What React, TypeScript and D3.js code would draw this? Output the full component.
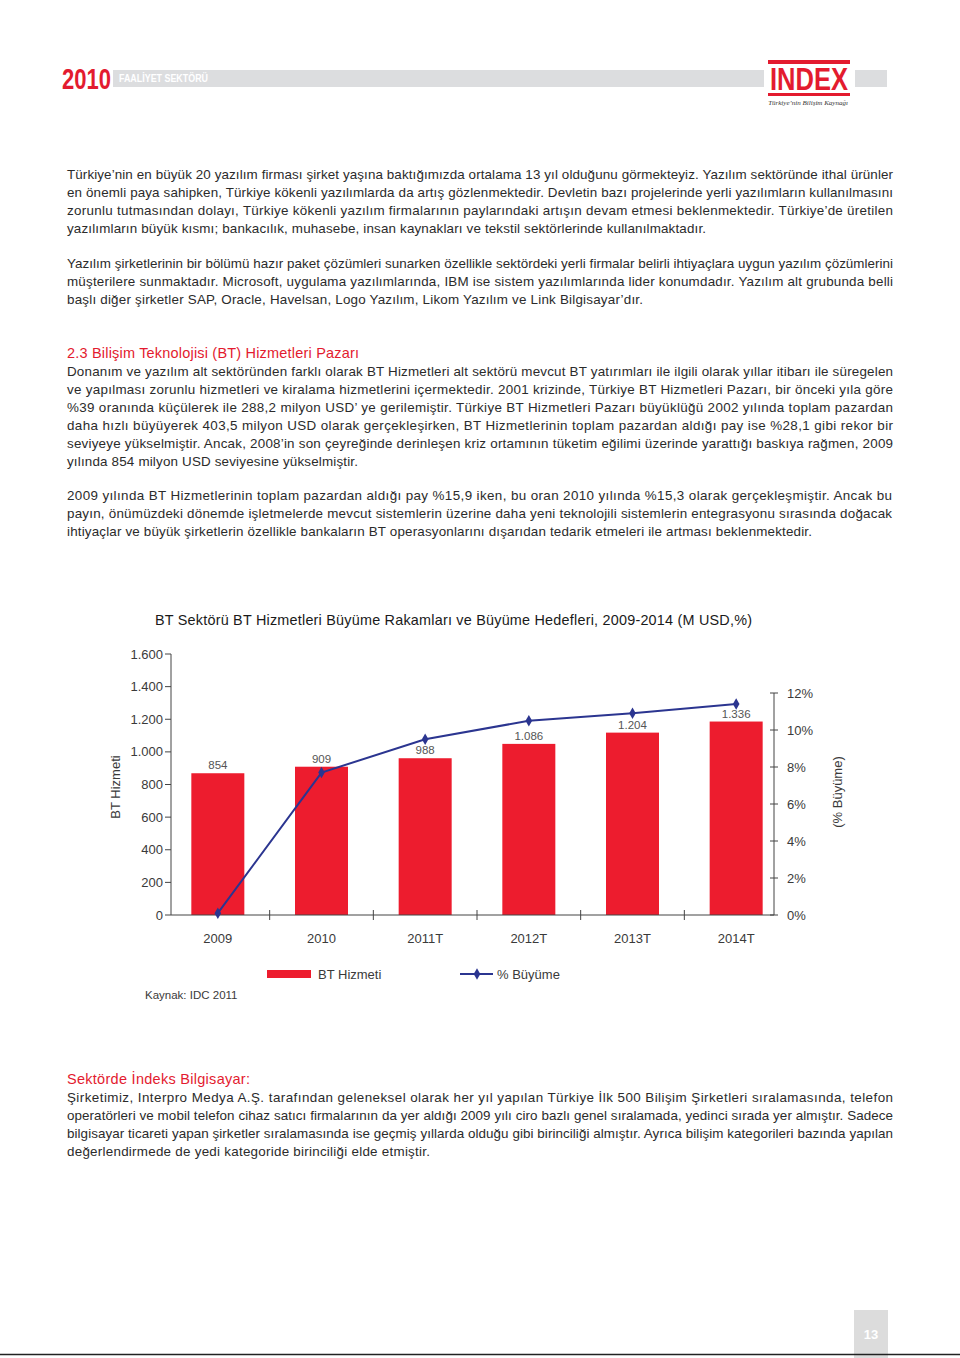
import React from "react";
import * as d3 from "d3";

// ---------- chart data ----------
const categories = ["2009", "2010", "2011T", "2012T", "2013T", "2014T"];
// value labels printed above the bars (M USD)
const btHizmetiLabels = [854, 909, 988, 1086, 1204, 1336];
// bar heights as drawn against the left axis (M USD)
const btHizmetiDrawn = [869, 909, 961, 1049, 1118, 1186];
// % growth line, read against the right axis
const buyume = [0.1, 7.7, 9.5, 10.5, 10.9, 11.4];
const leftTicks = [0, 200, 400, 600, 800, 1000, 1200, 1400, 1600];
const rightTicks = [0, 2, 4, 6, 8, 10, 12];

const chartTitle = "BT Sektörü BT Hizmetleri Büyüme Rakamları ve Büyüme Hedefleri, 2009-2014 (M USD,%)";
const leftTitle = "BT Hizmeti";
const rightTitle = "(% Büyüme)";
const legendBar = "BT Hizmeti";
const legendLine = "% Büyüme";
const source = "Kaynak: IDC 2011";

// ---------- page text ----------
type Line = { t: string; w?: number };
const p1: Line[] = [
  { t: "Türkiye’nin en büyük 20 yazılım firması şirket yaşına baktığımızda ortalama 13 yıl olduğunu görmekteyiz. Yazılım sektöründe ithal ürünler", w: 826 },
  { t: "en önemli paya sahipken, Türkiye kökenli yazılımlarda da artış gözlenmektedir. Devletin bazı projelerinde yerli yazılımların kullanılmasını", w: 826 },
  { t: "zorunlu tutmasından dolayı, Türkiye kökenli yazılım firmalarının paylarındaki artışın devam etmesi beklenmektedir. Türkiye’de üretilen", w: 826 },
  { t: "yazılımların büyük kısmı; bankacılık, muhasebe, insan kaynakları ve tekstil sektörlerinde kullanılmaktadır.", w: 639 },
];
const p2: Line[] = [
  { t: "Yazılım şirketlerinin bir bölümü hazır paket çözümleri sunarken özellikle sektördeki yerli firmalar belirli ihtiyaçlara uygun yazılım çözümlerini", w: 826 },
  { t: "müşterilere sunmaktadır. Microsoft, uygulama yazılımlarında, IBM ise sistem yazılımlarında lider konumdadır. Yazılım alt grubunda belli", w: 826 },
  { t: "başlı diğer şirketler SAP, Oracle, Havelsan, Logo Yazılım, Likom Yazılım ve Link Bilgisayar’dır.", w: 576 },
];
const p3: Line[] = [
  { t: "Donanım ve yazılım alt sektöründen farklı olarak BT Hizmetleri alt sektörü mevcut BT yatırımları ile ilgili olarak yıllar itibarı ile süregelen", w: 826 },
  { t: "ve yapılması zorunlu hizmetleri ve kiralama hizmetlerini içermektedir. 2001 krizinde, Türkiye BT Hizmetleri Pazarı, bir önceki yıla göre", w: 826 },
  { t: "%39 oranında küçülerek ile 288,2 milyon USD’ ye gerilemiştir. Türkiye BT Hizmetleri Pazarı büyüklüğü 2002 yılında toplam pazardan", w: 826 },
  { t: "daha hızlı büyüyerek 403,5 milyon USD olarak gerçekleşirken, BT Hizmetlerinin toplam pazardan aldığı pay ise %28,1 gibi rekor bir", w: 826 },
  { t: "seviyeye yükselmiştir. Ancak, 2008’in son çeyreğinde derinleşen kriz ortamının tüketim eğilimi üzerinde yarattığı baskıya rağmen, 2009", w: 826 },
  { t: "yılında 854 milyon USD seviyesine yükselmiştir.", w: 291 },
];
const p4: Line[] = [
  { t: "2009 yılında BT Hizmetlerinin toplam pazardan aldığı pay %15,9 iken, bu oran 2010 yılında %15,3 olarak gerçekleşmiştir. Ancak bu", w: 825 },
  { t: "payın, önümüzdeki dönemde işletmelerde mevcut sistemlerin üzerine daha yeni teknolojili sistemlerin entegrasyonu sırasında doğacak", w: 825 },
  { t: "ihtiyaçlar ve büyük şirketlerin özellikle bankaların BT operasyonlarını dışarıdan tedarik etmeleri ile artması beklenmektedir.", w: 745 },
];
const p5: Line[] = [
  { t: "Şirketimiz, Interpro Medya A.Ş. tarafından geleneksel olarak her yıl yapılan Türkiye İlk 500 Bilişim Şirketleri sıralamasında, telefon", w: 826 },
  { t: "operatörleri ve mobil telefon cihaz satıcı firmalarının da yer aldığı 2009 yılı ciro bazlı genel sıralamada, yedinci sırada yer almıştır. Sadece", w: 826 },
  { t: "bilgisayar ticareti yapan şirketler sıralamasında ise geçmiş yıllarda olduğu gibi birinciliği almıştır. Ayrıca bilişim kategorileri bazında yapılan", w: 826 },
  { t: "değerlendirmede de yedi kategoride birinciliği elde etmiştir.", w: 363 },
];

const RED = "#e31b2f";
const BAR = "#ed1c2e";
const NAVY = "#2b3590";
const TEXT = "#2b2b2b";
const FONT = "'Liberation Sans', Arial, Helvetica, sans-serif";

const trFormat = d3.formatLocale({ decimal: ",", thousands: ".", grouping: [3], currency: ["", ""] }).format(",");

function Paragraph({ lines, y0 }: { lines: Line[]; y0: number }) {
  return (
    <g>
      {lines.map((l, i) => (
        <text
          key={i}
          x={67}
          y={y0 + i * 18}
          fontSize={13.4}
          fill={TEXT}
          textLength={l.w}
          lengthAdjust="spacing"
        >
          {l.t}
        </text>
      ))}
    </g>
  );
}

export default function App() {
  const x = d3.scaleBand<string>().domain(categories).range([166, 788]).padding(0);
  const yL = d3.scaleLinear().domain([0, 1600]).range([915, 654]);
  const yR = d3.scaleLinear().domain([0, 12]).range([915, 693]);
  const barW = 53;
  const cx = (c: string) => (x(c) as number) + x.bandwidth() / 2;
  const axisL = 171;
  const axisR = 774;
  const base = yL(0);

  const line = d3
    .line<number>()
    .x((_, i) => cx(categories[i]))
    .y((d) => yR(d));

  const diamond = d3.symbol().type(d3.symbolDiamond).size(38)() as string;

  return (
    <svg
      width={960}
      height={1358}
      style={{ position: "absolute", left: 0, top: 0, background: "#fff" }}
      fontFamily={FONT}
    >
      <rect x={0} y={0} width={960} height={1358} fill="#fff" />

      {/* header */}
      <rect x={113} y={70} width={774} height={17} fill="#dcdddf" />
      <text x={62} y={89} fontSize={30} fontWeight="bold" fill={RED} textLength={49} lengthAdjust="spacingAndGlyphs">2010</text>
      <text x={119} y={82} fontSize={10.5} fontWeight="bold" fill="#fff" textLength={89} lengthAdjust="spacingAndGlyphs">FAALİYET SEKTÖRÜ</text>
      <rect x={764} y={56} width={91} height={54} fill="#fff" />
      <rect x={768} y={60} width={82} height={4} fill={RED} />
      <text x={770} y={90} fontSize={32} fontWeight="bold" fill={RED} textLength={78} lengthAdjust="spacingAndGlyphs">INDEX</text>
      <rect x={768} y={93} width={82} height={3} fill={RED} />
      <text x={808} y={105} fontSize={7} fontStyle="italic" fontFamily="'Liberation Serif', serif" fill="#333" textAnchor="middle">Türkiye’nin Bilişim Kaynağı</text>

      {/* text blocks */}
      <Paragraph lines={p1} y0={179} />
      <Paragraph lines={p2} y0={268} />
      <text x={67} y={358} fontSize={14.5} fill={RED} textLength={292} lengthAdjust="spacing">2.3 Bilişim Teknolojisi (BT) Hizmetleri Pazarı</text>
      <Paragraph lines={p3} y0={376} />
      <Paragraph lines={p4} y0={500} />

      {/* chart title */}
      <text x={155} y={625} fontSize={14.4} fill="#1a1a1a" textLength={597} lengthAdjust="spacing">{chartTitle}</text>

      {/* bars */}
      {categories.map((c, i) => (
        <rect key={c} x={cx(c) - barW / 2} y={yL(btHizmetiDrawn[i])} width={barW} height={base - yL(btHizmetiDrawn[i])} fill={BAR} />
      ))}
      {categories.map((c, i) => (
        <text key={"l" + c} x={cx(c)} y={yL(btHizmetiDrawn[i]) - 4} fontSize={11.5} fill="#555" textAnchor="middle">
          {trFormat(btHizmetiLabels[i])}
        </text>
      ))}

      {/* left axis */}
      <line x1={axisL} x2={axisL} y1={yL(1600)} y2={base} stroke="#444" />
      {leftTicks.map((t) => (
        <g key={"lt" + t}>
          <line x1={axisL - 6} x2={axisL} y1={yL(t)} y2={yL(t)} stroke="#444" />
          <text x={axisL - 8} y={yL(t) + 4.5} fontSize={13} fill="#3a3a3a" textAnchor="end">{trFormat(t)}</text>
        </g>
      ))}

      {/* right axis */}
      <line x1={axisR} x2={axisR} y1={yR(12)} y2={base} stroke="#444" />
      {rightTicks.map((t) => (
        <g key={"rt" + t}>
          <line x1={axisR - 4} x2={axisR + 4} y1={yR(t)} y2={yR(t)} stroke="#444" />
          <text x={axisR + 13} y={yR(t) + 4.5} fontSize={13} fill="#3a3a3a">{t + "%"}</text>
        </g>
      ))}

      {/* x axis */}
      <line x1={axisL} x2={axisR} y1={base} y2={base} stroke="#444" />
      {categories.slice(1).map((c) => (
        <line key={"xt" + c} x1={x(c) as number} x2={x(c) as number} y1={base - 5} y2={base + 5} stroke="#444" />
      ))}
      {categories.map((c) => (
        <text key={"xl" + c} x={cx(c)} y={943} fontSize={13} fill="#3a3a3a" textAnchor="middle">{c}</text>
      ))}

      {/* growth line */}
      <path d={line(buyume) as string} fill="none" stroke={NAVY} strokeWidth={2} />
      {buyume.map((v, i) => (
        <path key={"m" + i} d={diamond} transform={`translate(${cx(categories[i])},${yR(v)})`} fill={NAVY} />
      ))}

      {/* axis titles */}
      <text transform="translate(120,787) rotate(-90)" fontSize={13} fill="#3a3a3a" textAnchor="middle">{leftTitle}</text>
      <text transform="translate(842,792) rotate(-90)" fontSize={13} fill="#3a3a3a" textAnchor="middle">{rightTitle}</text>

      {/* legend */}
      <rect x={267} y={970} width={44} height={8} fill={BAR} />
      <text x={318} y={979} fontSize={13} fill="#3a3a3a">{legendBar}</text>
      <line x1={460} x2={493} y1={974} y2={974} stroke={NAVY} strokeWidth={2} />
      <path d={diamond} transform="translate(477,974)" fill={NAVY} />
      <text x={497} y={979} fontSize={13} fill="#3a3a3a">{legendLine}</text>
      <text x={145} y={999} fontSize={11.5} fill="#3a3a3a">{source}</text>

      {/* bottom section */}
      <text x={67} y={1084} fontSize={14.5} fill={RED} textLength={183} lengthAdjust="spacing">Sektörde İndeks Bilgisayar:</text>
      <Paragraph lines={p5} y0={1102} />

      {/* footer */}
      <rect x={854} y={1310} width={34} height={48} fill="#dcdcdc" />
      <text x={871} y={1339} fontSize={13} fontWeight="bold" fill="#fff" textAnchor="middle">13</text>
      <line x1={0} x2={960} y1={1354.5} y2={1354.5} stroke="#222" strokeWidth={1.5} />
    </svg>
  );
}
